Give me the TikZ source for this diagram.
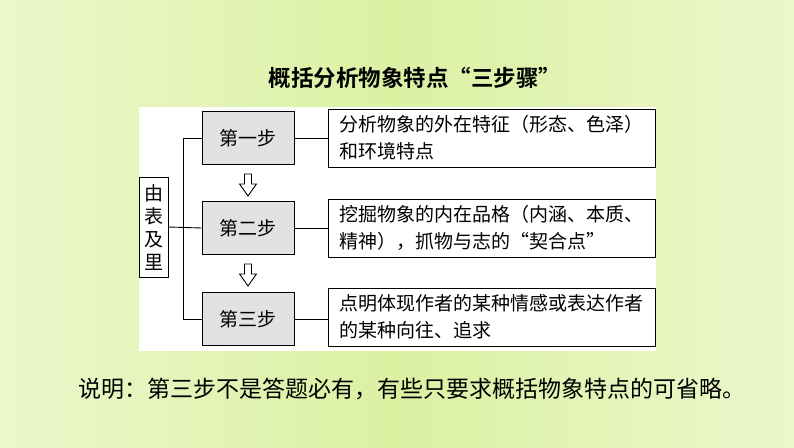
\documentclass[tikz,border=0pt]{standalone}
\usepackage{fontspec}
\setmainfont{Noto Sans CJK SC}
\newfontfamily\titlefont{Noto Sans CJK SC Bold}
\definecolor{bgEdge}{HTML}{ECF7CC}
\definecolor{bgMid}{HTML}{DBF1A2}
\definecolor{stepgray}{HTML}{E2E2E2}
\begin{document}
\begin{tikzpicture}[x=1pt,y=-1pt,
  boxline/.style={draw=black,line width=0.9pt},
  sidebox/.style={boxline,fill=white,minimum width=29pt,minimum height=100pt,inner sep=0pt,align=center,
    font=\fontsize{19pt}{23pt}\selectfont},
  stepbox/.style={boxline,fill=stepgray,minimum width=92pt,minimum height=53pt,inner sep=0pt,
    font=\fontsize{19pt}{23pt}\selectfont},
  descbox/.style={boxline,fill=white,minimum width=327pt,minimum height=58pt,inner xsep=11pt,inner ysep=2pt,
    text width=305pt,align=left,font=\fontsize{19pt}{27pt}\selectfont},
  conn/.style={draw=black,line width=0.9pt},
  hollowarrow/.style={draw=black,line width=0.9pt,fill=white,line join=miter}
]
\useasboundingbox (0,0) rectangle (794,447);
\shade[left color=bgEdge,right color=bgEdge,middle color=bgMid] (0,0) rectangle (794,447);
\fill[white] (139,107) rectangle (656,351);

\node[font=\titlefont\fontsize{22.5pt}{25pt}\selectfont] (title) at (415,78) {概括分析物象特点“三步骤”};

\node[sidebox] (side) at (153.5,227) {由\\表\\及\\里};

\node[stepbox] (s1) at (248,138) {第一步};
\node[stepbox] (s2) at (248,228) {第二步};
\node[stepbox] (s3) at (248,319) {第三步};

\node[descbox] (d1) at (491.5,138) {分析物象的外在特征（形态、色泽）\\和环境特点};
\node[descbox] (d2) at (491.5,228) {挖掘物象的内在品格（内涵、本质、\\精神），抓物与志的“契合点”};
\node[descbox] (d3) at (491.5,317) {点明体现作者的某种情感或表达作者\\的某种向往、追求};

\coordinate (trunk1) at ([xshift=-18pt]s1.west);
\coordinate (trunk3) at ([xshift=-18pt]s3.west);
\draw[conn] (s1.west) -- (trunk1) -- (trunk3) -- (s3.west);
\draw[conn] (side.east) -- (s2.west);
\draw[conn] (s1.east) -- (s1.east -| d1.west);
\draw[conn] (s2.east) -- (s2.east -| d2.west);
\draw[conn] (s3.east) -- (s3.east -| d3.west);

\path (s1.south) ++(0,9) coordinate (a1);
\path (s2.south) ++(0,9) coordinate (a2);
\draw[hollowarrow] (a1) ++(-3.5,0) -- ++(7,0) -- ++(0,10) -- ++(5,0) -- ++(-8.5,12) -- ++(-8.5,-12) -- ++(5,0) -- cycle;
\draw[hollowarrow] (a2) ++(-3.5,0) -- ++(7,0) -- ++(0,10) -- ++(5,0) -- ++(-8.5,12) -- ++(-8.5,-12) -- ++(5,0) -- cycle;

\node[font=\fontsize{23pt}{26pt}\selectfont] (note) at (412,389) {说明：第三步不是答题必有，有些只要求概括物象特点的可省略。};
\end{tikzpicture}
\end{document}
